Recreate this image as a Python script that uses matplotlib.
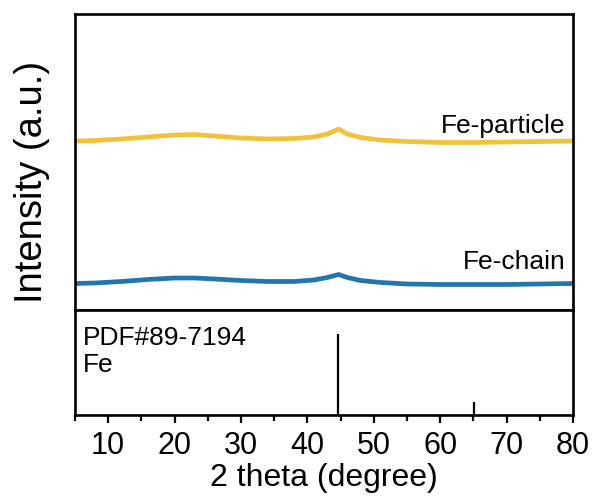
import numpy as np
import matplotlib
matplotlib.use("Agg")
import matplotlib.pyplot as plt

plt.rcParams['font.family'] = ['Liberation Sans', 'DejaVu Sans']

# XRD traces (2 theta in degree, intensity in a.u.)
two_theta = [5, 8, 12, 16, 20, 23, 26, 30, 34, 38, 41, 43, 44.7, 46, 48, 51, 55, 60, 65, 70, 75, 80]
fe_particle = [169, 169.5, 171, 173, 175, 175.5, 174, 172, 171, 171.5, 173, 176, 181, 176, 172.5, 170, 168.5, 167.5, 167.5, 168, 168.5, 169]
fe_chain = [26.5, 27, 28.5, 30.5, 32, 32, 31, 29.5, 28.5, 28.5, 30, 32.5, 35.5, 32.5, 29.5, 27.5, 26, 25.5, 25.5, 25.5, 26, 26.5]

# reference pattern PDF#89-7194 (Fe)
pdf_pos = [44.67, 65.02]
pdf_int = [100, 16]

fig = plt.figure(figsize=(5.96, 5.02), dpi=100)
ax1 = fig.add_axes([0.1258, 0.3805, 0.8356, 0.5896])
ax2 = fig.add_axes([0.1258, 0.1713, 0.8356, 0.2092], sharex=ax1)

ax1.plot(two_theta, fe_particle, color='#F2C13C', lw=3.4, solid_joinstyle='round')
ax1.plot(two_theta, fe_chain, color='#2176AE', lw=3.4, solid_joinstyle='round')
ax1.text(78.9, 178, 'Fe-particle', ha='right', va='baseline', fontsize=19)
ax1.text(78.9, 42, 'Fe-chain', ha='right', va='baseline', fontsize=19)
ax1.set_ylim(0, 296)
ax1.set_yticks([])
ax1.tick_params(axis='x', which='both', bottom=False, labelbottom=False)

ax2.vlines(pdf_pos, 0, pdf_int, color='black', lw=1.6)
ax2.text(0.016, 0.676, 'PDF#89-7194', transform=ax2.transAxes, fontsize=19, va='baseline')
ax2.text(0.016, 0.42, 'Fe', transform=ax2.transAxes, fontsize=19, va='baseline')
ax2.set_ylim(0, 130)
ax2.set_yticks([])
ax2.set_xlim(5, 80)
ax2.set_xticks(np.arange(10, 81, 10))
ax2.set_xticks(np.arange(5, 80, 10), minor=True)
ax2.tick_params(axis='x', which='major', direction='out', length=6, width=1.6, labelsize=22, pad=5)
ax2.tick_params(axis='x', which='minor', direction='out', length=4.5, width=1.6)
ax2.set_xlabel('2 theta (degree)', fontsize=23, labelpad=1)

for ax in (ax1, ax2):
    for sp in ax.spines.values():
        sp.set_linewidth(1.9)

fig.text(0.054, 0.637, 'Intensity (a.u.)', rotation=90, ha='center', va='center', fontsize=27.5)

fig.savefig('out.png', dpi=100)
